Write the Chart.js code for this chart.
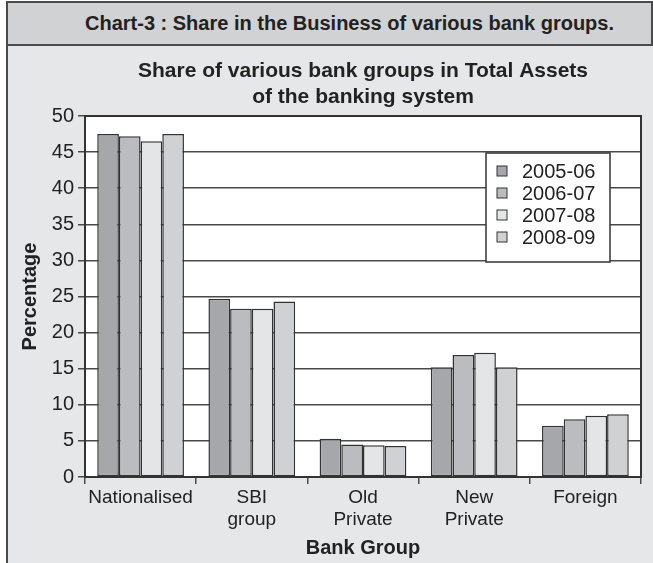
<!DOCTYPE html>
<html>
<head>
<meta charset="utf-8">
<script src="https://cdn.jsdelivr.net/npm/chart.js@4/dist/chart.umd.min.js"></script>
<style>
  html, body { margin: 0; padding: 0; background: #ffffff; }
  body { width: 653px; height: 563px; position: relative; overflow: hidden;
         font-family: "Liberation Sans", Arial, Helvetica, sans-serif; }
  #frame { position: absolute; left: 6px; top: 1px; width: 660px; height: 600px;
           background: #e6e7e8; border-left: 2px solid #4a4a4a; border-top: 2px solid #4a4a4a; }
  #band { position: absolute; left: 8px; top: 3px; width: 643px; height: 41px;
          background: #d1d2d4; border-bottom: 2px solid #4a4a4a; border-right: 2px solid #4a4a4a; }
  #band span { position: absolute; left: 77px; top: 9px; font-weight: bold; font-size: 20px;
               color: #222; white-space: nowrap; }
  #chart { position: absolute; left: 8px; top: 46px; }
</style>
</head>
<body>
<div id="frame"></div>
<div id="band"><span>Chart-3 : Share in the Business of various bank groups.</span></div>
<canvas id="chart" width="643" height="517"></canvas>
<script>
// Bank groups on the category axis (multi-line labels)
const bankGroups = ['Nationalised', ['SBI', 'group'], ['Old', 'Private'], ['New', 'Private'], 'Foreign'];
const years = ['2005-06', '2006-07', '2007-08', '2008-09'];

// Share in total assets (%) for each year, by bank group
const share200506 = [47.5, 24.7, 5.3, 15.2, 7.1];
const share200607 = [47.2, 23.3, 4.5, 16.9, 8.0];
const share200708 = [46.5, 23.3, 4.4, 17.2, 8.5];
const share200809 = [47.5, 24.3, 4.3, 15.2, 8.7];

const yTicks = [0, 5, 10, 15, 20, 25, 30, 35, 40, 45, 50];

const fills = ['#a6a7aa', '#bbbcc0', '#e4e5e7', '#d0d1d3'];
const FONT = '"Liberation Sans", Arial, Helvetica, sans-serif';
const INK = '#222222';
const LINE = '#4a4a4a';

// White plot background and the box around the plot area
const plotFrame = {
  id: 'plotFrame',
  beforeDraw(chart) {
    const { ctx, chartArea: a } = chart;
    ctx.save();
    ctx.fillStyle = '#ffffff';
    ctx.fillRect(a.left, a.top, a.right - a.left, a.bottom - a.top);
    ctx.restore();
  },
  afterDraw(chart) {
    const { ctx, chartArea: a } = chart;
    ctx.save();
    ctx.strokeStyle = '#333333';
    ctx.lineWidth = 2;
    ctx.strokeRect(a.left, a.top, a.right - a.left, a.bottom - a.top);
    ctx.restore();
  }
};

// Boxed legend drawn inside the plot area, upper right
const boxedLegend = {
  id: 'boxedLegend',
  afterDraw(chart) {
    const { ctx, chartArea: a } = chart;
    const bx = a.right - 155, by = a.top + 37, bw = 124, bh = 109;
    ctx.save();
    ctx.fillStyle = '#ffffff';
    ctx.fillRect(bx, by, bw, bh);
    ctx.strokeStyle = '#333333';
    ctx.lineWidth = 1.5;
    ctx.strokeRect(bx, by, bw, bh);
    ctx.font = '20px ' + FONT;
    ctx.textBaseline = 'middle';
    chart.data.datasets.forEach((ds, i) => {
      const cy = by + 18 + i * 22;
      ctx.fillStyle = ds.backgroundColor;
      ctx.fillRect(bx + 11, cy - 5, 10, 10);
      ctx.strokeStyle = '#333333';
      ctx.lineWidth = 1;
      ctx.strokeRect(bx + 11, cy - 5, 10, 10);
      ctx.fillStyle = INK;
      ctx.fillText(ds.label, bx + 36, cy + 1);
    });
    ctx.restore();
  }
};

const seriesValues = [share200506, share200607, share200708, share200809];

new Chart(document.getElementById('chart'), {
  type: 'bar',
  data: {
    labels: bankGroups,
    datasets: years.map((y, i) => ({
      label: y,
      data: seriesValues[i],
      backgroundColor: fills[i],
      borderColor: '#333333',
      borderWidth: 1.5,
      borderSkipped: false,
      categoryPercentage: 0.78,
      barPercentage: 1.0
    }))
  },
  options: {
    responsive: false,
    devicePixelRatio: 1,
    animation: false,
    layout: { padding: { left: 0, right: 10, top: 0, bottom: 0 } },
    plugins: {
      legend: { display: false },
      tooltip: { enabled: false },
      title: {
        display: true,
        fullSize: false,
        text: ['Share of various bank groups in Total Assets', 'of the banking system'],
        color: INK,
        font: { family: FONT, size: 21, weight: 'bold', lineHeight: 1.2 },
        padding: { top: 13, bottom: 6.6 }
      }
    },
    scales: {
      x: {
        grid: { drawOnChartArea: false, color: LINE, lineWidth: 1.5, tickLength: 7, offset: true },
        border: { color: LINE, width: 1.5 },
        ticks: { color: INK, font: { family: FONT, size: 19, lineHeight: 1.2 }, padding: 2,
                 maxRotation: 0, autoSkip: false },
        title: { display: true, text: 'Bank Group', color: INK,
                 font: { family: FONT, size: 20, weight: 'bold', lineHeight: 1.2 },
                 padding: { top: 0, bottom: 3 } },
        afterFit(scale) { scale.height = 86; }
      },
      y: {
        min: 0, max: 50,
        afterBuildTicks(scale) { scale.ticks = yTicks.map(v => ({ value: v })); },
        grid: { color: LINE, lineWidth: 1.5, tickLength: 7 },
        border: { color: LINE, width: 1.5 },
        ticks: { color: INK, font: { family: FONT, size: 20 }, padding: 4 },
        title: { display: true, text: 'Percentage', color: INK,
                 font: { family: FONT, size: 20, weight: 'bold', lineHeight: 1.2 },
                 padding: { top: 10, bottom: 0 } },
        afterFit(scale) { scale.width = 77; }
      }
    }
  },
  plugins: [plotFrame, boxedLegend]
});
</script>
</body>
</html>
